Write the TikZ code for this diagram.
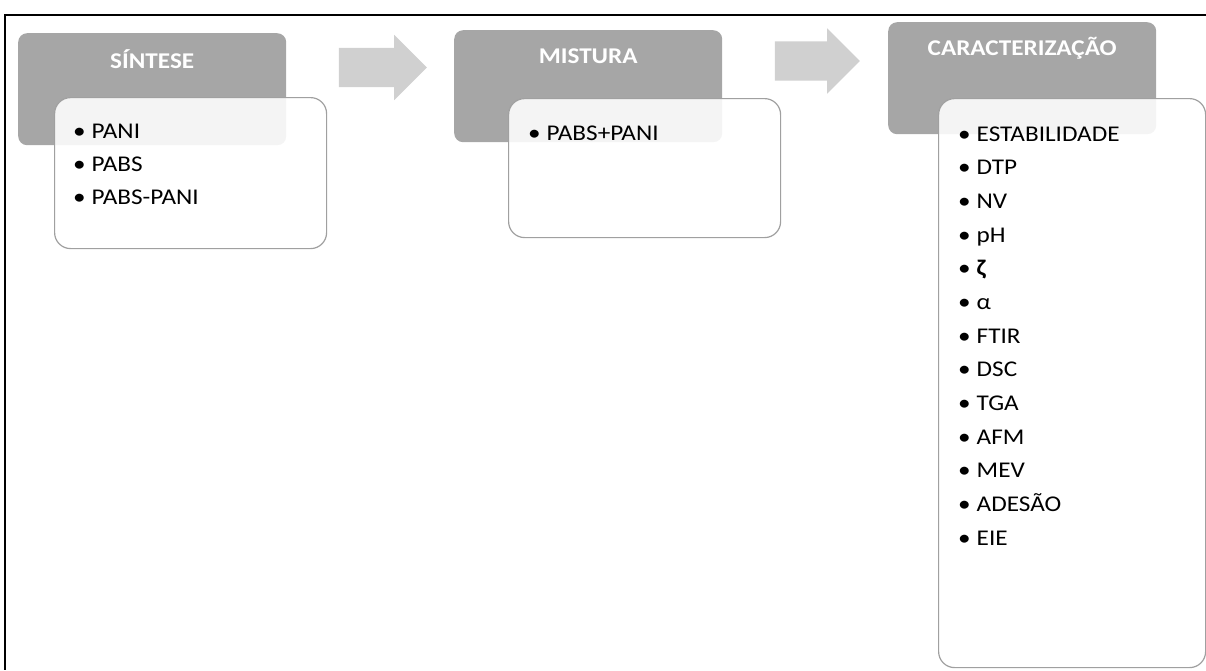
\documentclass[tikz,border=0pt]{standalone}
\usepackage{fontspec}
\setmainfont{Carlito}[FakeStretch=1.12]
\usepackage{tikz}
\usetikzlibrary{calc, shapes.arrows}
\definecolor{headgray}{RGB}{166,166,166}
\definecolor{arrowgray}{RGB}{208,208,208}
\definecolor{edgegray}{RGB}{160,160,160}
\newcommand{\itembul}{\makebox[18.5pt][l]{\textbullet}}
\tikzset{
  hdr/.style={fill=headgray, rounded corners=9pt, minimum width=268pt, minimum height=112pt, anchor=north west, inner sep=0pt},
  body/.style={draw=edgegray, line width=1.2pt, fill=white, fill opacity=0.88, rounded corners=16pt, anchor=north west, inner sep=0pt},
  title/.style={text=white, font=\fontsize{22.5}{27}\selectfont\bfseries, anchor=base, inner sep=0pt},
  item/.style={font=\fontsize{22.5}{27}\selectfont, anchor=base west, inner sep=0pt},
  blockarrow/.style={single arrow, fill=arrowgray, inner sep=19.5pt, single arrow head extend=13pt}
}
\begin{document}
\begin{tikzpicture}[x=1pt, y=-1pt]
  \useasboundingbox (0,0) rectangle (1206,670);
  % frame
  \draw[line width=2pt] (1206,15) -- (5,15) -- (5,670);
  % stage headers
  \node[hdr] (synth) at (18,33) {};
  \node[hdr] (mix) at (454,30) {};
  \node[hdr] (charac) at (888,22) {};
  \node[title] (synthT) at ($(synth.north)+(0,35)$) {SÍNTESE};
  \node[title] (mixT) at ($(mix.north)+(0,33)$) {MISTURA};
  \node[title] (characT) at ($(charac.north)+(0,33)$) {CARACTERIZAÇÃO};
  % content boxes
  \node[body, minimum width=272pt, minimum height=151pt] (synthB) at (54,97) {};
  \node[body, minimum width=272pt, minimum height=139pt] (mixB) at (508,98) {};
  \node[body, minimum width=267pt, minimum height=569pt] (characB) at (938,98) {};
  % arrows between stages
  \node[blockarrow, minimum height=88pt] (arrA) at (373,67.5) {};
  \node[blockarrow, minimum height=85pt] (arrB) at (807.5,61) {};
  % lists
  \foreach \t [count=\i from 0] in {PANI, PABS, PABS-PANI}
    \node[item] (synthI\i) at (73, 138+33*\i) {\itembul\t};
  \node[item] (mixI0) at (528,140) {\itembul PABS+PANI};
  \foreach \t [count=\i from 0] in {ESTABILIDADE, DTP, NV, pH, {\textbf{ζ}}, α, FTIR, DSC, TGA, AFM, MEV, ADESÃO, EIE}
    \node[item] (characI\i) at (958, 141+33.67*\i) {\itembul\t};
\end{tikzpicture}
\end{document}
